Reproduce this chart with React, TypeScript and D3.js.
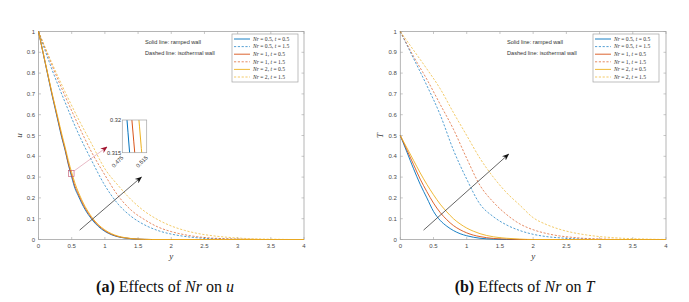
import React, { useEffect, useRef } from "react";
import * as d3 from "d3";

// --- data ---
const xTicks = [0, 0.5, 1, 1.5, 2, 2.5, 3, 3.5, 4];
const yTicks = [0, 0.1, 0.2, 0.3, 0.4, 0.5, 0.6, 0.7, 0.8, 0.9, 1];

// (a) velocity u, solid = ramped wall (t = 0.5)
const uSolidX = [0, 0.05, 0.1, 0.15, 0.2, 0.25, 0.3, 0.35, 0.4, 0.45, 0.5, 0.55, 0.6, 0.65, 0.7, 0.75, 0.8, 0.85, 0.9, 0.95, 1.0, 1.1, 1.2, 1.3, 1.4, 1.5, 1.6, 1.7, 2, 4];
const uSolidNr05 = [1, 0.925, 0.85, 0.775, 0.7, 0.63, 0.56, 0.49, 0.43, 0.36, 0.3, 0.245, 0.21, 0.175, 0.145, 0.12, 0.098, 0.079, 0.063, 0.05, 0.039, 0.023, 0.013, 0.007, 0.0035, 0.0015, 0.0005, 0, 0, 0];
const uSolidNr1 = [1, 0.926, 0.852, 0.778, 0.705, 0.635, 0.566, 0.497, 0.435, 0.365, 0.31, 0.255, 0.218, 0.183, 0.152, 0.126, 0.103, 0.084, 0.067, 0.054, 0.042, 0.025, 0.014, 0.008, 0.004, 0.0018, 0.0006, 0, 0, 0];
const uSolidNr2 = [1, 0.928, 0.855, 0.782, 0.71, 0.642, 0.575, 0.508, 0.445, 0.38, 0.3225, 0.27, 0.228, 0.192, 0.16, 0.133, 0.109, 0.089, 0.072, 0.058, 0.046, 0.028, 0.016, 0.009, 0.0045, 0.002, 0.0008, 0, 0, 0];

// (a) velocity u, dashed = isothermal wall (t = 1.5)
const dashX = [0, 0.2, 0.4, 0.6, 0.8, 1.0, 1.2, 1.4, 1.6, 1.8, 2.0, 2.2, 2.4, 2.6, 2.8, 3.0, 3.2, 3.4, 3.6, 3.8, 4];
const uDashNr05 = [1, 0.82, 0.66, 0.51, 0.38, 0.26, 0.17, 0.11, 0.07, 0.043, 0.026, 0.015, 0.008, 0.004, 0.002, 0.001, 0, 0, 0, 0, 0];
const uDashNr1 = [1, 0.84, 0.69, 0.55, 0.42, 0.31, 0.21, 0.14, 0.095, 0.06, 0.038, 0.023, 0.013, 0.007, 0.004, 0.002, 0.001, 0, 0, 0, 0];
const uDashNr2 = [1, 0.85, 0.71, 0.58, 0.46, 0.34, 0.26, 0.19, 0.135, 0.095, 0.065, 0.044, 0.029, 0.019, 0.012, 0.007, 0.004, 0.002, 0.001, 0, 0];

// (b) temperature T, solid = ramped wall
const tSolidX = [0, 0.1, 0.2, 0.3, 0.4, 0.5, 0.6, 0.7, 0.8, 0.9, 1.0, 1.1, 1.2, 1.4, 1.6, 1.8, 2.0, 4];
const tSolidNr05 = [0.5, 0.42, 0.34, 0.265, 0.2, 0.135, 0.092, 0.064, 0.043, 0.028, 0.018, 0.011, 0.006, 0.002, 0, 0, 0, 0];
const tSolidNr1 = [0.5, 0.43, 0.36, 0.29, 0.23, 0.175, 0.13, 0.095, 0.067, 0.047, 0.032, 0.021, 0.014, 0.005, 0.002, 0, 0, 0];
const tSolidNr2 = [0.5, 0.44, 0.38, 0.32, 0.265, 0.215, 0.17, 0.133, 0.1, 0.075, 0.055, 0.04, 0.028, 0.013, 0.006, 0.002, 0, 0];

// (b) temperature T, dashed = isothermal wall
const tDashNr05 = [1, 0.87, 0.74, 0.6, 0.43, 0.29, 0.17, 0.11, 0.07, 0.043, 0.025, 0.014, 0.008, 0.004, 0.002, 0, 0, 0, 0, 0, 0];
const tDashNr1 = [1, 0.88, 0.77, 0.65, 0.53, 0.39, 0.26, 0.18, 0.12, 0.075, 0.047, 0.029, 0.017, 0.01, 0.005, 0.003, 0.001, 0, 0, 0, 0];
const tDashNr2 = [1, 0.91, 0.82, 0.725, 0.61, 0.5, 0.39, 0.3, 0.225, 0.165, 0.105, 0.072, 0.049, 0.033, 0.022, 0.014, 0.009, 0.005, 0.003, 0.001, 0];

const legendNr = ["0.5", "0.5", "1", "1", "2", "2"];
const legendT = ["0.5", "1.5", "0.5", "1.5", "0.5", "1.5"];

const COLORS = ["#0072BD", "#D95319", "#EDB120"];
const SANS = "Liberation Sans, Arial, sans-serif";
const SERIF = "Liberation Serif, DejaVu Serif, serif";

const W = 689;
const H = 302;

type Pt = [number, number];
const zip = (xs: number[], ys: number[]): Pt[] => xs.map((x, i) => [x, ys[i]]);

function drawPanel(svg: any, p: any) {
  const g = svg.append("g");
  const x = d3.scaleLinear().domain([0, 4]).range([p.left, p.right]);
  const y = d3.scaleLinear().domain([0, 1]).range([239.5, 31.5]);

  // axes box with inward ticks on all sides
  g.append("rect")
    .attr("x", x(0)).attr("y", y(1))
    .attr("width", x(4) - x(0)).attr("height", y(0) - y(1))
    .attr("fill", "none").attr("stroke", "#a3a3a3").attr("stroke-width", 0.8);

  const tl = 2.5;
  xTicks.forEach((t) => {
    g.append("line").attr("x1", x(t)).attr("x2", x(t)).attr("y1", y(0)).attr("y2", y(0) - tl).attr("stroke", "#a3a3a3").attr("stroke-width", 0.6);
    g.append("line").attr("x1", x(t)).attr("x2", x(t)).attr("y1", y(1)).attr("y2", y(1) + tl).attr("stroke", "#a3a3a3").attr("stroke-width", 0.6);
    g.append("text").attr("x", x(t)).attr("y", y(0) + 8.5).attr("text-anchor", "middle")
      .attr("font-family", SANS).attr("font-size", 6).attr("fill", "#4a4a4a").text(String(t));
  });
  yTicks.forEach((t) => {
    g.append("line").attr("x1", x(0)).attr("x2", x(0) + tl).attr("y1", y(t)).attr("y2", y(t)).attr("stroke", "#a3a3a3").attr("stroke-width", 0.6);
    g.append("line").attr("x1", x(4)).attr("x2", x(4) - tl).attr("y1", y(t)).attr("y2", y(t)).attr("stroke", "#a3a3a3").attr("stroke-width", 0.6);
    g.append("text").attr("x", x(0) - 3.5).attr("y", y(t) + 2).attr("text-anchor", "end")
      .attr("font-family", SANS).attr("font-size", 6).attr("fill", "#4a4a4a").text(d3.format("~g")(t));
  });

  // axis labels
  g.append("text").attr("x", (x(0) + x(4)) / 2).attr("y", 259).attr("text-anchor", "middle")
    .attr("font-family", SERIF).attr("font-style", "italic").attr("font-size", 9).attr("fill", "#333").text("y");
  g.append("text").attr("transform", `translate(${x(0) - 17},${y(0.5)}) rotate(-90)`).attr("text-anchor", "middle")
    .attr("font-family", SERIF).attr("font-style", "italic").attr("font-size", 9).attr("fill", "#333").text(p.yLabel);

  const line = d3.line<Pt>().x((d) => x(d[0])).y((d) => y(d[1])).curve(d3.curveMonotoneX);

  p.dashed.forEach((s: number[], i: number) => {
    g.append("path").datum(zip(p.dashX, s)).attr("d", line).attr("fill", "none")
      .attr("stroke", COLORS[i]).attr("stroke-opacity", 0.75).attr("stroke-width", 0.9).attr("stroke-dasharray", "2.2,1.6");
  });
  p.solid.forEach((s: number[], i: number) => {
    g.append("path").datum(zip(p.solidX, s)).attr("d", line).attr("fill", "none")
      .attr("stroke", COLORS[i]).attr("stroke-width", 0.9);
  });

  // annotation text
  g.append("text").attr("x", p.noteX).attr("y", 44).attr("font-family", SANS).attr("font-size", 5.6).attr("fill", "#333").text("Solid line: ramped wall");
  g.append("text").attr("x", p.noteX).attr("y", 54.5).attr("font-family", SANS).attr("font-size", 5.6).attr("fill", "#333").text("Dashed line: isothermal wall");

  // legend
  const lx = p.legendX;
  g.append("rect").attr("x", lx).attr("y", 34).attr("width", 66).attr("height", 48)
    .attr("fill", "#fff").attr("stroke", "#a3a3a3").attr("stroke-width", 0.7);
  legendNr.forEach((nr, i) => {
    const ly = 39 + i * 7.6;
    const col = COLORS[Math.floor(i / 2)];
    const ln = g.append("line").attr("x1", lx + 2).attr("x2", lx + 18).attr("y1", ly).attr("y2", ly)
      .attr("stroke", col).attr("stroke-width", 0.9);
    if (i % 2 === 1) ln.attr("stroke-dasharray", "2.2,1.6").attr("stroke-opacity", 0.75);
    const tx = g.append("text").attr("x", lx + 21).attr("y", ly + 1.8).attr("font-family", SERIF).attr("font-size", 5.6).attr("fill", "#333");
    tx.append("tspan").attr("font-style", "italic").text("Nr");
    tx.append("tspan").text(` = ${nr}, `);
    tx.append("tspan").attr("font-style", "italic").text("t");
    tx.append("tspan").text(` = ${legendT[i]}`);
  });

  // black arrow
  const ar = p.arrow;
  g.append("line").attr("x1", x(ar[0])).attr("y1", y(ar[1])).attr("x2", x(ar[2])).attr("y2", y(ar[3]))
    .attr("stroke", "#222").attr("stroke-width", 0.7).attr("marker-end", "url(#headBlack)");

  return { g, x, y };
}

const App = () => {
  const svgRef = useRef<SVGSVGElement>(null);

  useEffect(() => {
    const svg = d3.select(svgRef.current);
    svg.selectAll("*").remove();

    const defs = svg.append("defs");
    const mk = (id: string, color: string) =>
      defs.append("marker").attr("id", id).attr("viewBox", "0 0 10 10").attr("refX", 9).attr("refY", 5)
        .attr("markerWidth", 7).attr("markerHeight", 7).attr("markerUnits", "userSpaceOnUse").attr("orient", "auto")
        .append("path").attr("d", "M0,1 L10,5 L0,9 L3,5 Z").attr("fill", color);
    mk("headBlack", "#111");
    mk("headRed", "#A2142F");

    const a = drawPanel(svg, {
      left: 38.5, right: 304, yLabel: "u", noteX: 145, legendX: 232,
      solidX: uSolidX, solid: [uSolidNr05, uSolidNr1, uSolidNr2],
      dashX: dashX, dashed: [uDashNr05, uDashNr1, uDashNr2],
      arrow: [0.62, 0.045, 1.55, 0.3],
    });
    drawPanel(svg, {
      left: 400.3, right: 666, yLabel: "T", noteX: 507, legendX: 593,
      solidX: tSolidX, solid: [tSolidNr05, tSolidNr1, tSolidNr2],
      dashX: dashX, dashed: [tDashNr05, tDashNr1, tDashNr2],
      arrow: [0.35, 0.045, 1.63, 0.41],
    });

    // zoom marker and inset in panel (a)
    const g = a.g;
    const cx = a.x(0.495), cy = a.y(0.3175);
    g.append("rect").attr("x", cx - 2.7).attr("y", cy - 3).attr("width", 5.4).attr("height", 6)
      .attr("fill", "none").attr("stroke", "#C0506A").attr("stroke-width", 0.6);
    g.append("line").attr("x1", cx + 2.7).attr("y1", cy - 2.5).attr("x2", 107).attr("y2", 147)
      .attr("stroke", "#D98CA0").attr("stroke-width", 0.6).attr("marker-end", "url(#headRed)");

    const ix = d3.scaleLinear().domain([0.475, 0.515]).range([122.3, 146.7]);
    const iy = d3.scaleLinear().domain([0.315, 0.32]).range([152.7, 120]);
    defs.append("clipPath").attr("id", "insetClip").append("rect")
      .attr("x", 122.3).attr("y", 120).attr("width", 24.4).attr("height", 32.7);
    g.append("rect").attr("x", 122.3).attr("y", 120).attr("width", 24.4).attr("height", 32.7)
      .attr("fill", "#fff").attr("stroke", "none");
    const iline = d3.line<Pt>().x((d) => ix(d[0])).y((d) => iy(d[1])).curve(d3.curveMonotoneX);
    [uSolidNr05, uSolidNr1, uSolidNr2].forEach((s, i) => {
      g.append("path").datum(zip(uSolidX, s)).attr("d", iline).attr("clip-path", "url(#insetClip)")
        .attr("fill", "none").attr("stroke", COLORS[i]).attr("stroke-width", 1);
    });
    g.append("rect").attr("x", 122.3).attr("y", 120).attr("width", 24.4).attr("height", 32.7)
      .attr("fill", "none").attr("stroke", "#a3a3a3").attr("stroke-width", 0.7);
    [0.32, 0.315].forEach((t) => {
      g.append("text").attr("x", 121).attr("y", iy(t) + 2).attr("text-anchor", "end")
        .attr("font-family", SANS).attr("font-size", 5.6).attr("fill", "#333").text(String(t));
    });
    [0.475, 0.515].forEach((t) => {
      g.append("text").attr("transform", `translate(${ix(t) + 1.5},${158}) rotate(-45)`).attr("text-anchor", "end")
        .attr("font-family", SANS).attr("font-size", 5.6).attr("fill", "#333").text(String(t));
    });

    // captions
    const cap = (cxp: number, letter: string, v: string) => {
      const t = svg.append("text").attr("x", cxp).attr("y", 292).attr("text-anchor", "middle")
        .attr("font-family", SERIF).attr("font-size", 16).attr("fill", "#111");
      t.append("tspan").attr("font-weight", "bold").text(`(${letter})`);
      t.append("tspan").text(" Effects of ");
      t.append("tspan").attr("font-style", "italic").text("Nr");
      t.append("tspan").text(" on ");
      t.append("tspan").attr("font-style", "italic").text(v);
    };
    cap(165, "a", "u");
    cap(524.5, "b", "T");
  }, []);

  return (
    <svg ref={svgRef} width={W} height={H} style={{ position: "absolute", left: 0, top: 0, background: "#fff" }} />
  );
};

export default App;
